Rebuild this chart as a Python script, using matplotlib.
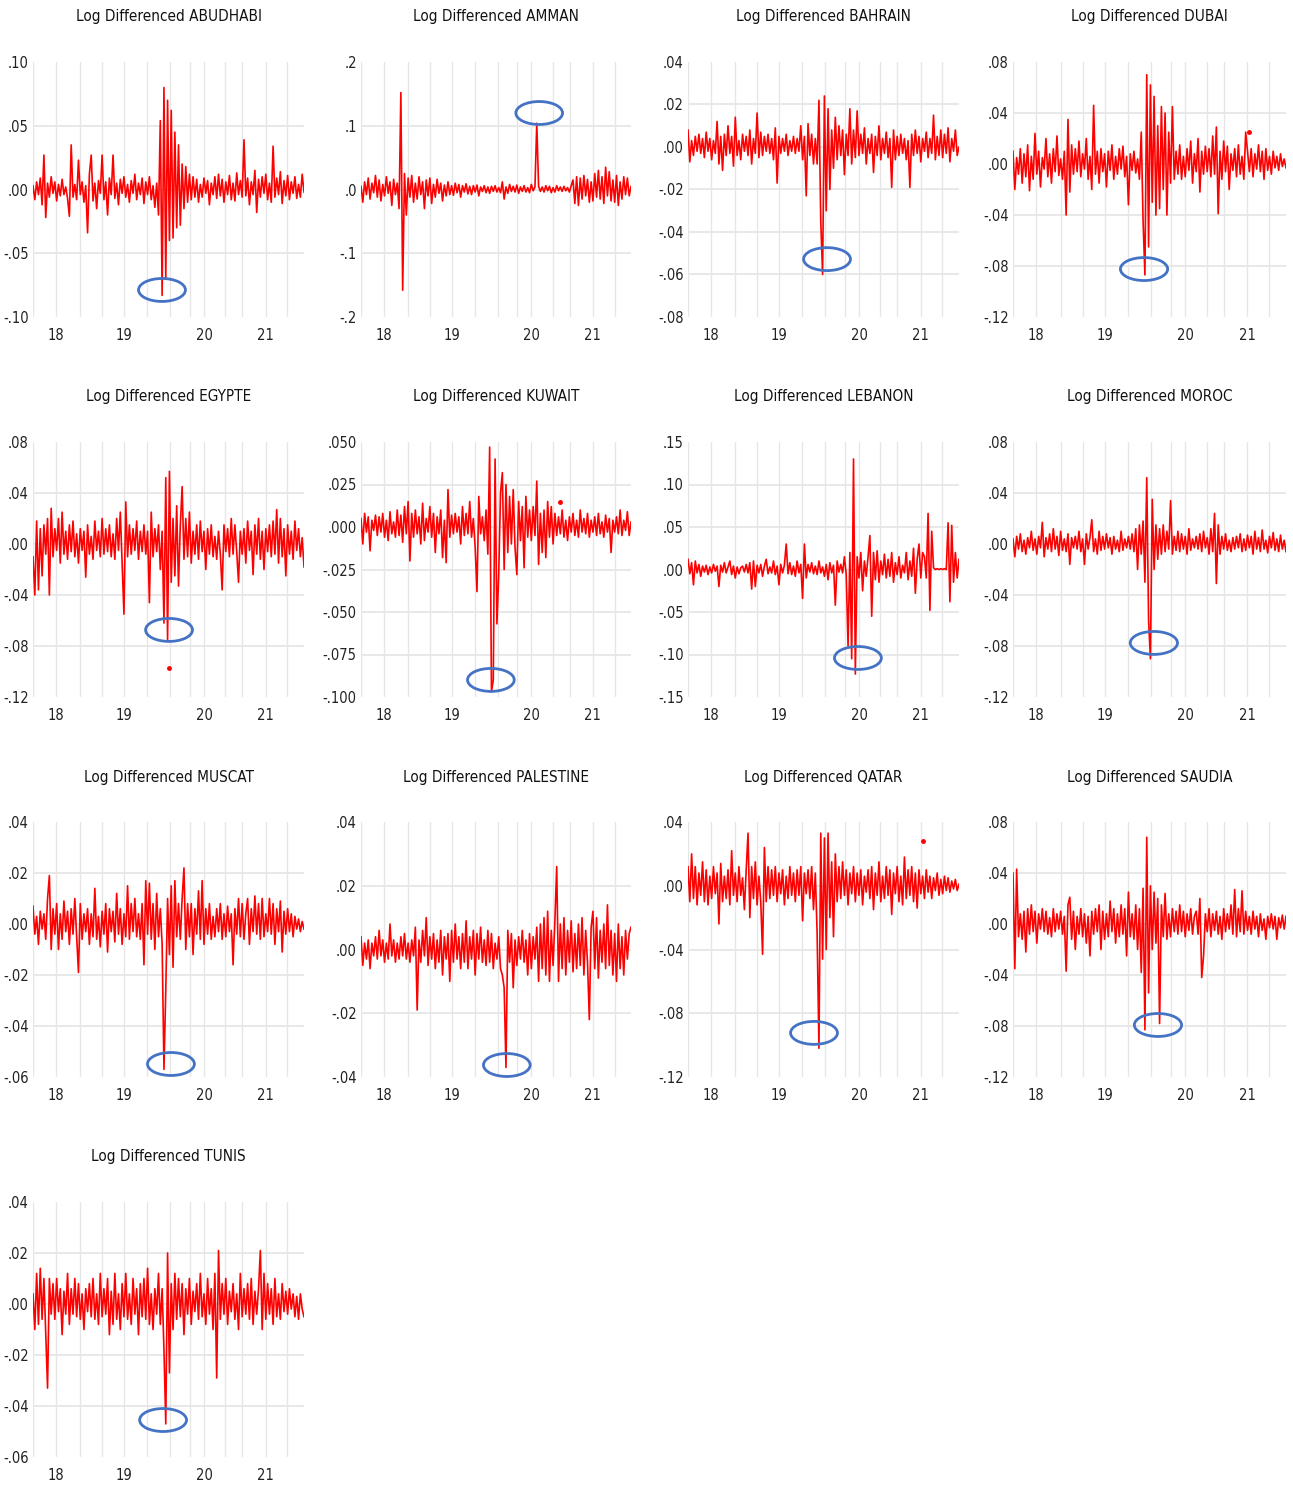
import matplotlib
matplotlib.use("Agg")
import matplotlib.pyplot as plt
from matplotlib.patches import Ellipse
import numpy as np

plt.rcParams['font.family'] = ['DejaVu Sans']
plt.rcParams['font.stretch'] = 'condensed'

# ---------------- data (log differenced returns) -------------
NAMES = ["ABUDHABI", "AMMAN", "BAHRAIN", "DUBAI", "EGYPTE", "KUWAIT", "LEBANON",
         "MOROC", "MUSCAT", "PALESTINE", "QATAR", "SAUDIA", "TUNIS"]

ABUDHABI = [
    .003,-.008,.006,-.004,.009,-.012,.027,-.022,.005,-.006,
    .010,-.003,.006,-.009,.004,-.005,.008,-.004,.002,-.007,
    -.021,.035,-.006,.004,-.008,.023,-.004,.006,-.010,.003,
    -.034,.012,.027,-.009,.005,-.015,.007,-.003,.027,-.008,
    .006,-.020,.009,-.004,.027,-.007,.005,-.012,.008,-.003,
    .010,-.006,.004,-.010,.007,-.003,.012,-.008,.005,-.004,
    .009,-.011,.006,-.004,.010,-.008,.003,-.014,.005,-.020,
    .054,-.083,.080,-.070,.070,-.040,.062,-.038,.045,-.030,
    .035,-.028,.020,-.015,.018,-.010,.012,-.008,.010,-.006,
    .008,-.010,.004,-.006,.009,-.003,.007,-.012,.005,-.004,
    .010,-.007,.012,-.005,.008,-.010,.006,-.004,.011,-.008,
    .005,-.009,.013,-.004,.007,-.006,.039,-.005,.009,-.012,
    .006,-.004,.015,-.018,.008,-.006,.010,-.003,.012,-.008,
    .005,-.010,.034,-.006,.009,-.004,.014,-.011,.007,-.005,
    .011,-.008,.006,-.003,.010,-.007,.004,-.006,.012,-.002]

AMMAN = [
    .005,-.020,.012,-.008,.018,-.015,.010,-.005,.022,-.012,
    .015,-.018,.008,-.010,.020,-.006,.012,-.025,.016,-.008,
    .010,-.030,.152,-.158,.025,-.040,.018,-.012,.022,-.020,
    .010,-.015,.020,-.008,.012,-.030,.015,-.010,.018,-.022,
    .008,-.012,.016,-.006,.010,-.018,.007,-.010,.012,-.008,
    .006,-.009,.010,-.005,.008,-.012,.006,-.004,.009,-.007,
    .005,-.008,.006,-.004,.007,-.010,.004,-.003,.006,-.005,
    .004,-.006,.005,-.003,.006,-.004,.003,-.005,.012,-.015,
    .004,-.006,.008,-.003,.005,-.004,.007,-.006,.004,-.003,
    .006,-.004,.003,-.005,.008,-.002,.004,.104,.005,-.003,
    .004,-.004,.006,-.002,.005,-.005,.003,-.004,.006,-.002,
    .004,-.003,.005,-.002,.003,-.004,.006,.015,-.022,.020,
    -.025,.018,-.015,.022,-.010,.016,-.020,.012,-.018,.025,
    -.012,.030,-.015,.020,-.022,.035,-.010,.028,-.018,.015,
    -.020,.022,-.025,.012,-.015,.020,-.008,.018,-.010,.005]

BAHRAIN = [
    .008,-.007,.003,-.004,.005,-.002,.006,-.003,.004,-.005,
    .007,-.002,.004,-.006,.003,-.003,.012,-.008,.005,-.011,
    .006,-.004,.010,-.003,.005,-.009,.014,-.004,.003,-.006,
    .006,-.002,.005,-.004,.008,-.008,.004,-.003,.016,-.005,
    .007,-.004,.005,-.002,.006,-.003,.004,-.006,.009,-.017,
    .005,-.003,.004,-.002,.006,-.004,.003,-.002,.005,-.003,
    .004,-.002,.010,-.006,.005,-.023,.011,-.004,.006,-.008,
    .004,-.008,.022,-.035,-.060,.024,-.030,.018,-.020,.008,
    -.010,.014,-.006,.010,-.004,.008,-.013,.006,-.004,.018,
    -.008,.008,-.005,.017,-.004,.006,-.003,.009,-.008,.004,
    -.003,.006,-.012,.005,-.004,.010,-.006,.004,-.003,.007,
    -.005,.004,-.019,.008,-.006,.005,-.004,.006,-.003,.004,
    -.006,.003,-.019,.006,-.004,.008,-.003,.005,-.007,.004,
    -.002,.007,-.005,.004,-.003,.015,-.006,.005,-.004,.008,
    -.005,.006,-.003,.009,-.007,.004,-.002,.008,-.004,.000]

DUBAI = [
    .010,-.020,.005,-.008,.012,-.015,.008,-.010,.015,-.021,
    .006,-.012,.024,-.008,.010,-.018,.005,-.004,.020,-.010,
    .008,-.015,.012,-.006,.022,-.009,.004,-.012,.010,-.040,
    .035,-.022,.015,-.008,.012,-.006,.018,-.010,.008,-.004,
    .020,-.012,.006,-.020,.046,-.008,.010,-.015,.012,-.006,
    .008,-.018,.010,-.005,.015,-.012,.006,-.008,.012,-.004,
    .014,-.010,.006,-.032,.008,-.005,.010,-.007,.004,-.012,
    .025,-.045,-.087,.070,-.065,.062,-.030,.053,-.040,.030,
    -.035,.045,-.020,.040,-.040,.025,-.015,.045,-.012,.010,
    -.008,.015,-.012,.006,-.010,.012,-.005,.018,-.015,.008,
    -.006,.020,-.022,.010,-.008,.014,-.006,.012,-.010,.022,
    -.008,.029,-.039,.010,-.012,.018,-.006,.014,-.020,.008,
    -.005,.012,-.010,.015,-.008,.006,-.012,.025,.010,-.006,
    .012,-.010,.008,-.004,.015,-.006,.010,-.012,.012,-.005,
    .006,-.008,.010,-.003,.006,-.005,.008,-.002,.004,-.003]

EGYPTE = [
    -.010,-.040,.018,-.036,.012,-.025,.015,-.008,.020,-.040,
    .028,-.010,.012,-.005,.020,-.015,.025,-.008,.010,-.012,
    .015,-.006,.018,-.010,.008,-.015,.012,-.005,.010,-.026,
    .015,-.008,.006,-.012,.018,-.005,.010,-.010,.020,-.008,
    .012,-.006,.015,-.010,.008,-.012,.020,-.005,.025,-.015,
    -.055,.033,-.010,.015,-.008,.012,-.005,.018,-.012,.010,
    -.006,.015,-.008,.010,-.046,.025,-.010,.012,-.006,.015,
    -.020,.010,-.062,.052,-.075,.057,-.030,.020,-.025,.030,
    -.033,.015,.045,-.012,.020,-.010,.025,-.015,.010,-.008,
    .015,-.012,.018,-.006,.010,-.020,.012,-.008,.015,-.010,
    .006,-.012,.010,-.008,-.036,.015,-.006,.012,-.010,.020,
    -.008,.015,-.006,-.030,.010,-.008,.012,-.015,.018,-.005,
    .010,-.024,.015,-.008,.020,-.012,.010,-.020,.012,-.006,
    .015,-.010,.018,-.008,.027,-.015,.020,-.010,.012,-.025,
    .015,-.008,.010,-.012,.018,-.005,.012,-.010,.005,-.018]

KUWAIT = [
    .005,-.010,.008,-.003,.006,-.014,.004,-.002,.007,-.005,
    .006,-.003,.008,-.006,.004,-.008,.009,-.004,.003,-.006,
    .010,-.005,.007,-.009,.012,-.004,.015,-.020,.008,-.006,
    .010,-.004,.006,-.010,.014,-.008,.005,-.003,.012,-.006,
    .008,-.015,.006,-.004,.010,-.018,.004,-.021,.022,-.006,
    .007,-.004,.008,-.003,.006,-.010,.012,-.005,.008,-.004,
    .015,-.006,.005,-.012,-.038,.018,-.004,.006,-.008,.010,
    -.016,.047,-.097,-.090,.040,-.057,-.028,.020,.032,-.025,
    .025,-.015,.018,-.010,.022,-.012,-.028,.015,-.008,.012,
    -.024,.018,-.006,.010,-.008,.012,-.005,.027,-.022,.008,
    -.015,.010,-.018,.015,-.006,.012,-.010,.008,-.005,.006,
    -.004,.010,-.006,.004,-.008,.006,-.003,.008,-.005,.004,
    -.006,.010,-.003,.005,-.004,.008,-.006,.004,-.003,.006,
    -.005,.008,-.004,.003,-.006,.007,-.003,.005,-.015,.004,
    -.003,.006,-.004,.010,-.005,.004,-.002,.009,-.005,.003]

LEBANON = [
    .012,-.005,.008,-.018,.010,-.004,.006,-.008,.004,-.003,
    .005,-.006,.003,-.004,.006,-.002,.004,-.020,.005,-.003,
    .008,-.004,.003,.010,-.006,.004,-.010,.003,-.005,.002,
    .004,-.003,.006,-.004,.008,-.023,.010,-.020,.005,-.004,
    .006,-.008,.004,.012,-.005,.003,-.004,.010,-.006,.004,
    -.018,.006,-.004,.005,.030,-.005,.008,-.006,.004,-.008,
    .010,-.004,.006,-.034,.030,-.010,.006,-.003,.008,-.005,
    .004,-.006,.010,-.004,.003,-.008,.006,-.012,.008,-.004,
    .005,-.042,.010,-.003,.006,-.004,.015,-.006,-.090,.020,
    -.105,.130,-.123,.015,-.010,.020,-.025,.010,-.008,.015,
    .040,-.055,.020,-.012,.022,-.015,.010,-.006,.018,-.010,
    .012,-.008,.020,-.015,.008,-.006,.015,-.010,.005,-.004,
    .020,-.012,.010,-.008,.025,-.028,.012,.030,-.010,.020,
    .015,-.010,.066,-.048,.045,.002,.000,.001,.000,.001,
    .000,.001,.000,.055,-.038,.052,-.015,.020,-.010,.012]

MOROC = [
    .004,-.010,.006,-.004,.008,-.006,.003,-.008,.005,-.003,
    .010,-.005,.004,-.008,.006,-.003,.017,-.010,.005,-.004,
    .008,-.006,.012,-.004,.006,-.009,.010,-.005,.004,-.006,
    .008,-.016,.005,-.003,.006,-.004,.010,-.006,.004,-.016,
    .008,-.004,.005,.019,-.006,.004,-.008,.010,-.005,.006,
    -.004,.008,-.003,.005,-.008,.006,-.004,.003,-.006,.010,
    -.005,.004,-.003,.006,-.004,.008,-.006,.012,-.020,.015,
    -.008,.018,-.030,.052,-.060,-.090,.035,-.020,.015,-.012,
    .012,-.008,.015,-.006,.010,-.004,.034,-.008,.006,-.005,
    .010,-.006,.008,-.004,.006,-.008,.012,-.005,.004,-.003,
    .006,-.004,.008,-.006,.010,-.003,.005,-.008,.012,-.006,
    .024,-.031,.015,-.008,.006,-.004,.008,-.005,.003,-.006,
    .005,-.004,.006,-.003,.008,-.006,.004,-.005,.007,-.003,
    .006,-.008,.010,-.004,.005,-.006,.011,-.004,.003,-.007,
    .006,-.003,.009,-.005,.004,-.006,.007,-.004,.003,-.006]

MUSCAT = [
    .007,-.004,.003,-.008,.005,-.002,.004,-.006,.010,.019,
    -.010,.006,-.004,.008,-.010,.004,-.006,.009,-.003,.005,
    -.008,.006,-.004,.010,-.005,-.019,.008,-.006,.004,-.003,
    .006,-.008,.004,-.005,.014,-.006,.003,-.009,.005,-.004,
    .008,-.011,.006,-.003,.005,-.007,.012,-.004,.006,-.008,
    .004,-.005,.015,-.006,.008,-.003,.010,-.005,.004,-.006,
    .008,-.016,.017,-.004,.016,-.006,.008,-.010,.012,-.005,
    .006,-.008,-.057,-.026,.010,-.012,.015,-.017,.017,-.005,
    .008,-.006,.010,.022,-.010,.008,-.005,.008,-.012,.006,
    -.004,.013,-.006,.017,-.008,.006,-.004,.008,-.006,.003,
    -.005,.006,-.003,.008,-.006,.004,-.005,.007,-.003,.004,
    -.016,.006,-.004,.010,-.005,.008,-.006,.004,.010,-.008,
    .006,-.003,.011,-.004,.008,-.006,.010,-.005,.004,-.003,
    .010,-.004,.008,-.008,.006,-.003,.009,-.011,.005,-.004,
    .006,-.003,.004,-.005,.003,-.002,.002,-.003,.001,-.002]

PALESTINE = [
    .004,-.005,.002,-.003,.003,-.006,.002,-.002,.004,-.003,
    .006,-.002,.003,-.004,.002,-.003,.008,-.002,.003,-.004,
    .002,-.003,.004,-.002,.005,-.003,.002,-.004,.003,-.002,
    .007,-.019,.003,-.004,.006,-.002,.010,-.005,.004,-.003,
    .005,-.006,.003,-.004,.006,-.008,.004,-.003,.005,-.010,
    .006,-.004,.008,-.003,.004,-.006,.005,-.004,.009,-.006,
    .004,-.003,.006,-.008,.005,-.003,.007,-.004,.003,-.005,
    .006,-.004,.005,-.006,.002,-.003,.004,-.006,-.008,-.012,
    -.037,.006,-.004,.005,-.012,.003,-.005,.004,-.003,.006,
    -.004,.003,-.008,.005,-.006,.004,-.003,.007,-.010,.008,
    -.006,.010,-.008,.012,-.010,.006,-.005,.009,.026,-.010,
    .008,-.006,.010,-.008,.006,-.004,.009,-.007,.005,-.006,
    .008,-.005,.010,-.008,.006,-.004,-.022,.007,.012,-.006,
    .010,-.009,.006,-.004,.008,-.006,.014,-.005,.006,-.008,
    .005,-.010,.008,-.006,.004,-.008,.006,-.003,.005,.007]

QATAR = [
    .012,-.010,.020,-.008,.012,-.012,.008,-.006,.015,-.010,
    .010,-.012,.006,-.008,.012,-.005,.008,-.024,.014,-.010,
    .006,-.008,.010,-.012,.022,-.006,.008,-.010,.012,-.006,
    .005,-.015,.010,.033,-.020,.012,-.008,.015,-.012,.006,
    -.010,-.043,.024,-.010,.012,-.008,.010,-.006,.012,-.010,
    .008,-.005,.010,-.012,.006,-.008,.012,-.006,.008,-.010,
    .010,-.006,.012,-.022,.008,-.005,.010,-.008,.012,-.015,
    .008,-.030,-.102,.033,-.046,.030,-.040,.033,-.020,.015,
    -.032,.020,-.010,.012,-.008,.015,-.006,.010,-.012,.008,
    -.005,.012,-.010,.008,-.006,.010,-.012,.006,-.004,.010,
    -.008,.012,-.015,.008,-.006,.015,-.010,.006,-.008,.012,
    -.006,.010,-.018,.008,-.005,.012,-.010,.006,-.012,.018,
    -.008,.010,-.006,.012,-.010,.008,-.014,.010,-.005,.006,
    -.008,.010,-.004,.006,-.008,.005,-.003,.008,-.006,.004,
    -.005,.006,-.003,.005,-.004,.003,-.002,.004,-.003,.001]

SAUDIA = [
    .040,-.035,.043,-.010,.008,-.012,.010,-.022,.012,-.008,
    .015,-.006,.010,-.015,.008,-.004,.012,-.006,.010,-.008,
    .005,-.010,.012,-.006,.008,-.004,.010,-.008,.006,-.037,
    .015,.021,-.012,.010,-.020,.006,-.008,.012,-.010,.008,
    -.015,.006,-.025,.010,-.008,.012,-.006,.015,-.020,.010,
    -.012,.008,-.010,.018,-.006,.012,-.015,.008,-.010,.015,
    -.008,.012,-.025,.025,-.010,.008,-.012,.015,-.020,.012,
    -.038,.028,-.083,.068,-.054,.030,-.020,.025,-.015,.020,
    -.078,.015,-.010,.024,-.012,.008,-.010,.012,-.006,.010,
    -.008,.015,-.006,.010,-.010,.008,-.005,.012,-.008,.006,
    .010,-.008,.020,-.042,-.025,.008,-.006,.012,-.010,.008,
    -.005,.010,-.008,.006,-.012,.012,-.006,.008,-.004,.015,
    -.008,.027,-.010,.012,-.006,.026,-.008,.010,-.005,.006,
    -.008,.010,-.004,.006,-.010,.008,-.005,.004,-.012,.006,
    -.003,.008,-.004,.006,-.012,.005,-.003,.007,-.004,.006]

TUNIS = [
    .004,-.010,.012,-.008,.014,-.006,.010,-.012,-.033,.010,
    -.004,.008,-.006,.010,-.003,.006,-.012,.005,-.004,.012,
    -.008,.006,-.004,.010,-.005,.008,-.006,.004,-.010,.006,
    -.003,.008,-.005,.010,-.006,.004,-.008,.012,-.005,.006,
    -.004,.010,-.012,.005,-.008,.012,-.006,.004,-.010,.008,
    -.005,.012,-.006,.004,-.008,.010,-.004,.006,-.012,.008,
    -.005,.010,-.006,.014,-.008,.004,-.010,.006,-.004,.012,
    -.008,.006,-.018,-.047,.020,-.027,.008,-.010,.012,-.006,
    .010,-.005,.008,-.012,.006,-.004,.010,-.008,.005,-.003,
    .008,-.006,.012,-.005,.004,-.008,.010,-.004,.006,-.010,
    .012,-.029,.021,-.006,.008,-.004,.010,-.008,.005,-.003,
    .008,-.006,.004,-.010,.012,-.005,.006,-.004,.008,-.006,
    .010,-.008,.005,-.004,.006,.021,-.010,.012,-.006,.008,
    -.004,.006,-.008,.010,-.005,.004,-.006,.008,-.003,.005,
    -.004,.006,-.002,.004,-.005,.003,-.006,.004,-.002,-.005]

SERIES = [ABUDHABI, AMMAN, BAHRAIN, DUBAI, EGYPTE, KUWAIT, LEBANON,
          MOROC, MUSCAT, PALESTINE, QATAR, SAUDIA, TUNIS]

# isolated observations shown as dots (series name -> (obs index, value))
DOT_NAMES = ["EGYPTE", "QATAR", "DUBAI", "KUWAIT"]
DOT_INDEX = [75, 129, 129, 110]
DOT_VALUES = [-.097, .028, .025, .015]

YTICKS = [
    [-.10, -.05, .00, .05, .10],
    [-.2, -.1, .0, .1, .2],
    [-.08, -.06, -.04, -.02, .00, .02, .04],
    [-.12, -.08, -.04, .00, .04, .08],
    [-.12, -.08, -.04, .00, .04, .08],
    [-.100, -.075, -.050, -.025, .000, .025, .050],
    [-.15, -.10, -.05, .00, .05, .10, .15],
    [-.12, -.08, -.04, .00, .04, .08],
    [-.06, -.04, -.02, .00, .02, .04],
    [-.04, -.02, .00, .02, .04],
    [-.12, -.08, -.04, .00, .04],
    [-.12, -.08, -.04, .00, .04, .08],
    [-.06, -.04, -.02, .00, .02, .04],
]
YLABELS = [
    ["-.10", "-.05", ".00", ".05", ".10"],
    ["-.2", "-.1", ".0", ".1", ".2"],
    ["-.08", "-.06", "-.04", "-.02", ".00", ".02", ".04"],
    ["-.12", "-.08", "-.04", ".00", ".04", ".08"],
    ["-.12", "-.08", "-.04", ".00", ".04", ".08"],
    ["-.100", "-.075", "-.050", "-.025", ".000", ".025", ".050"],
    ["-.15", "-.10", "-.05", ".00", ".05", ".10", ".15"],
    ["-.12", "-.08", "-.04", ".00", ".04", ".08"],
    ["-.06", "-.04", "-.02", ".00", ".02", ".04"],
    ["-.04", "-.02", ".00", ".02", ".04"],
    ["-.12", "-.08", "-.04", ".00", ".04"],
    ["-.12", "-.08", "-.04", ".00", ".04", ".08"],
    ["-.06", "-.04", "-.02", ".00", ".02", ".04"],
]
YEAR_LABELS = ["18", "19", "20", "21"]

# ---------------- layout ----------------
YEAR_FRACS = [0.085, 0.336, 0.631, 0.858]
GRID_FRACS = [0.0, 0.085, 0.175, 0.256, 0.336, 0.422, 0.506, 0.578,
              0.631, 0.71, 0.773, 0.858, 0.939]
# ellipse centres in axes fraction
ELLIPSES = [(0.476, 0.106), (0.66, 0.80), (0.513, 0.227), (0.48, 0.188),
            (0.502, 0.263), (0.481, 0.067), (0.627, 0.153), (0.516, 0.212),
            (0.509, 0.051), (0.54, 0.047), (0.465, 0.173), (0.531, 0.204),
            (0.48, 0.145)]

W, H = 1293, 1486
COLS = [(33, 304), (361, 631), (688, 959), (1013, 1286)]
ROWS = [(62, 317), (442, 697), (822, 1077), (1202, 1457)]

fig = plt.figure(figsize=(W / 100, H / 100), dpi=100)
GRID_C = '#e6e6e6'

for i, (name, vals) in enumerate(zip(NAMES, SERIES)):
    r, c = divmod(i, 4)
    l, rr = COLS[c]
    t, b = ROWS[r]
    ax = fig.add_axes([l / W, 1 - b / H, (rr - l) / W, (b - t) / H])
    y = np.array(vals, dtype=float)
    n = len(y)
    x = np.arange(n)
    ax.set_xlim(0, n - 1)
    yt = YTICKS[i]
    ax.set_ylim(yt[0], yt[-1])
    for f in GRID_FRACS:
        ax.axvline(f * (n - 1), color=GRID_C, lw=1.0, zorder=0)
    for v in yt[1:-1]:
        ax.axhline(v, color=GRID_C, lw=1.3, zorder=0)
    ax.plot(x, y, color='#ff0000', lw=1.2, zorder=2)
    for dn, di, dv in zip(DOT_NAMES, DOT_INDEX, DOT_VALUES):
        if dn == name:
            ax.plot([di], [dv], 'o', color='#ff0000', ms=2.5, zorder=2)
    ax.set_yticks(yt)
    ax.set_yticklabels(YLABELS[i], fontstretch='condensed')
    ax.set_xticks([f * (n - 1) for f in YEAR_FRACS])
    ax.set_xticklabels(YEAR_LABELS, fontstretch='condensed')
    ax.tick_params(axis='both', length=0, labelsize=10.5, colors='#222222')
    ax.tick_params(axis='y', pad=3)
    ax.tick_params(axis='x', pad=8)
    for s in ax.spines.values():
        s.set_visible(False)
    ex, ey = ELLIPSES[i]
    ax.add_patch(Ellipse((ex, ey), 0.173, 0.09, transform=ax.transAxes,
                         fill=False, edgecolor='#4472C4', lw=2.0, zorder=3,
                         clip_on=False))
    fig.text((l + rr) / 2 / W, 1 - (t - 45) / H, f"Log Differenced {name}",
             ha='center', va='center', fontsize=11, fontstretch='condensed',
             color='#111111')

fig.savefig("out.png", dpi=100)
